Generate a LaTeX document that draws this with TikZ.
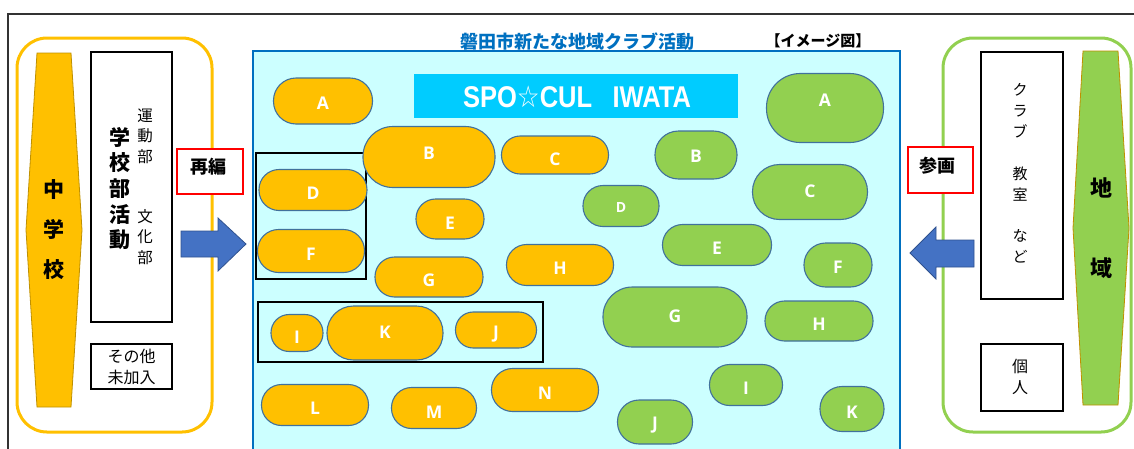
\documentclass[tikz,border=0pt]{standalone}
\usepackage{fontspec}
\newfontfamily\jpfont{Noto Sans CJK JP}
\newfontfamily\latinfont{Liberation Sans}
\newfontfamily\labelfont{Open Sans}
\newfontfamily\symbfont{DejaVu Sans}
\usetikzlibrary{calc}
\definecolor{clubo}{HTML}{FFC000}
\definecolor{clubg}{HTML}{92D050}
\definecolor{pillline}{HTML}{41719C}
\definecolor{panel}{HTML}{CCFFFF}
\definecolor{panelline}{HTML}{0070C0}
\definecolor{banner}{HTML}{00CCFF}
\definecolor{arrowfill}{HTML}{4472C4}
\definecolor{arrowline}{HTML}{2F528F}
\definecolor{hexline}{HTML}{BF9000}
\newcommand{\fsz}[2]{\fontsize{#1}{#2}\selectfont}
\tikzset{pill/.style={draw=pillline, line width=1.1pt, inner sep=0pt}}
\tikzset{orangepill/.style={pill, fill=clubo}}
\tikzset{greenpill/.style={pill, fill=clubg}}
\tikzset{pilltext/.style={text=white, inner sep=0pt, font=\labelfont\bfseries\fsz{17.5}{17.5}}}
\tikzset{blackbox/.style={draw=black, line width=1.5pt, fill=white, inner sep=0pt}}
\tikzset{redbox/.style={draw=red, line width=2.5pt, fill=white, inner sep=0pt}}
\tikzset{groupbox/.style={draw=black, line width=1.1pt}}
\tikzset{blockarrow/.style={fill=arrowfill, draw=arrowline, line width=0.8pt}}
\tikzset{column/.style={align=center, inner sep=0pt}}

\begin{document}
\begin{tikzpicture}[x=1pt,y=-1pt]
  \useasboundingbox (0,0) rectangle (1134,448);
  \clip (0,0) rectangle (1134,448);
  % outer frame
  \draw[line width=1.5pt, black!80] (8,470) -- (8,14) -- (1150,14);

  % school side
  \draw[draw=clubo, line width=3pt, rounded corners=30pt] (17,38) rectangle (212,432);
  \draw[fill=clubo, draw=hexline, line width=0.8pt]
    (37,53) -- (71,53) -- (82,230) -- (71,407) -- (37,407) -- (26,230) -- cycle;
  \node[column, font=\jpfont\bfseries\fsz{21}{40}] (school) at (54,230) {中\\学\\校};
  \node[blackbox, minimum width=81pt, minimum height=270pt] (clubbox) at (131.5,187) {};
  \node[column, font=\jpfont\bfseries\fsz{21}{25.7}] (clubtxt) at (120,188.5) {学\\校\\部\\活\\動};
  \node[column, font=\jpfont\fsz{15.5}{20.5}] (sports) at (145,136) {運\\動\\部};
  \node[column, font=\jpfont\fsz{15.5}{20.5}] (culture) at (145,237) {文\\化\\部};
  \node[blackbox, minimum width=81pt, minimum height=45pt] (otherbox) at (131.5,366.5) {};
  \node[column, font=\jpfont\fsz{16}{21}] (othertxt) at (131.5,366.5) {その他\\未加入};
  \node[redbox, minimum width=66pt, minimum height=45pt] (regroup) at (210,171.5) {};
  \node[inner sep=0pt, font=\jpfont\bfseries\fsz{18}{18}] (regrouptxt) at (208,167) {再編};
  \draw[blockarrow] (181,231) -- (218,231) -- (218,218) -- (246,244)
    -- (218,271) -- (218,257) -- (181,257) -- cycle;

  % region side
  \draw[draw=clubg, line width=3pt, rounded corners=30pt] (943,38) rectangle (1131,432);
  \draw[fill=clubg, draw=hexline, line width=0.8pt]
    (1083,51) -- (1118,51) -- (1129,228) -- (1118,405) -- (1083,405) -- (1073,228) -- cycle;
  \node[column, font=\jpfont\bfseries\fsz{22}{80}] (region) at (1101,228) {地\\域};
  \node[blackbox, minimum width=82pt, minimum height=247pt] (classbox) at (1022,175.5) {};
  \node[column, font=\jpfont\fsz{15}{20.9}] (classtxt) at (1020,173.5)
    {ク\\ラ\\ブ\\[20.9pt]教\\室\\[20.9pt]な\\ど};
  \node[blackbox, minimum width=82pt, minimum height=67pt] (personbox) at (1022,377.5) {};
  \node[column, font=\jpfont\fsz{16}{21}] (persontxt) at (1020,376.5) {個\\人};
  \node[redbox, minimum width=65pt, minimum height=46pt] (join) at (940.5,170) {};
  \node[inner sep=0pt, font=\jpfont\bfseries\fsz{18}{18}] (jointxt) at (937,166) {参画};
  \draw[blockarrow] (974,240) -- (936,240) -- (936,227) -- (910,253)
    -- (936,279) -- (936,267) -- (974,267) -- cycle;

  % new club panel
  \draw[fill=panel, draw=panelline, line width=1.8pt] (253,51) rectangle (900,470);
  \node[inner sep=0pt, text=panelline, font=\jpfont\bfseries\fsz{18}{18}] (title) at (577,42)
    {磐田市新たな地域クラブ活動};
  \node[inner sep=0pt, font=\jpfont\bfseries\fsz{15}{15}] (imagetag) at (818,41) {【イメージ図】};
  \node[fill=banner, minimum width=324pt, minimum height=44pt, inner sep=0pt] (banner) at (576,96) {};
  \node[inner sep=0pt, text=white] (bannertxt) at (577,97)
    {\scalebox{0.85}[1]{\fsz{30}{30}\latinfont\bfseries SPO{\symbfont\bfseries ☆}CUL\hspace{24pt}IWATA}};

  % groups
  \draw[groupbox] (256,153) rectangle (366,279);
  \draw[groupbox] (258,302) rectangle (543,362);

  % school clubs
  \foreach \x/\y/\w/\h/\lab/\ly [evaluate=\h as \r using 0.49*\h] in {
    323/101/99/46/A/103,
    429/157/132/61/B/153,
    555/155/107/38/C/159,
    313/190/108/41/D/193,
    450/219/68/40/E/223,
    311/251/107/43/F/254,
    429/277/108/40/G/280,
    560/265/107/41/H/268,
    297/333/52/37/I/337,
    385/333/116/54/K/332,
    496/330/81/36/J/334,
    315/405/107/41/L/408,
    434/408/85/41/M/412,
    545/390/107/43/N/393%
  } {
    \node[orangepill, minimum width=\w pt, minimum height=\h pt, rounded corners=\r pt] (o\lab) at (\x,\y) {};
    \node[pilltext] (o\lab t) at (\x,\ly) {\lab};
  }

  % region clubs
  \foreach \x/\y/\w/\h/\lab/\ly [evaluate=\h as \r using 0.49*\h] in {
    825/108/117/69/A/100,
    696/155/82/48/B/156,
    810/192/115/55/C/191,
    717/245/109/41/E/248,
    838/265/68/44/F/267,
    675/317/144/60/G/316,
    819/321/108/40/H/324,
    746/385/73/41/I/388,
    655/422/75/44/J/425,
    852/409/64/45/K/412%
  } {
    \node[greenpill, minimum width=\w pt, minimum height=\h pt, rounded corners=\r pt] (g\lab) at (\x,\y) {};
    \node[pilltext] (g\lab t) at (\x,\ly) {\lab};
  }
  \node[greenpill, minimum width=76pt, minimum height=41pt, rounded corners=20pt] (gD) at (621,206) {};
  \node[pilltext, font=\labelfont\bfseries\fsz{14}{14}] (gDt) at (621,207) {D};
\end{tikzpicture}
\end{document}
